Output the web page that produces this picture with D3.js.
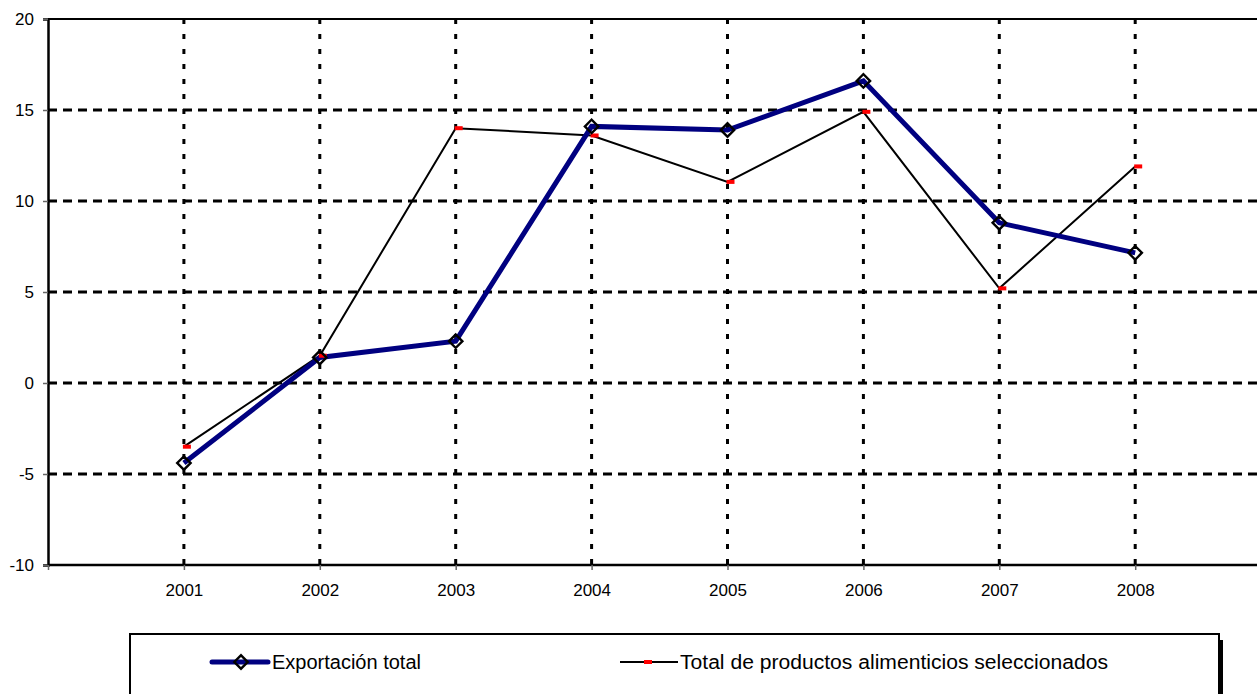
<!DOCTYPE html>
<html>
<head>
<meta charset="utf-8">
<script src="https://d3js.org/d3.v7.min.js"></script>
<style>
  html, body { margin: 0; padding: 0; background: #fff; overflow: hidden; }
  svg { display: block; font-family: "Liberation Sans", Arial, sans-serif; }
</style>
</head>
<body>
<svg id="chart" width="1257" height="694"></svg>
<script>
// ---- data ----
const years = ["2001", "2002", "2003", "2004", "2005", "2006", "2007", "2008"];
const exportacionTotal = [-4.4, 1.4, 2.3, 14.1, 13.9, 16.6, 8.8, 7.15];
const productosAlimenticios = [-3.5, 1.5, 14.0, 13.6, 11.05, 14.9, 5.2, 11.9];
const yTicks = [-10, -5, 0, 5, 10, 15, 20];
const seriesNames = ["Exportación total", "Total de productos alimenticios seleccionados"];

// ---- layout ----
const svg = d3.select("#chart");
const plotLeft = 48, plotTop = 19, plotBottom = 565, plotRight = 1257;

// point scale with an empty slot on each side (Excel-like category placement)
const slots = ["_start", ...years, "_end"];
const x = d3.scalePoint().domain(slots).range([plotLeft, plotLeft + 9 * 135.9]);
const y = d3.scaleLinear().domain([-10, 20]).range([plotBottom, plotTop]);

// horizontal grid
svg.append("g").selectAll("line").data(yTicks.filter(d => d > -10 && d < 20)).join("line")
  .attr("x1", plotLeft).attr("x2", plotRight)
  .attr("y1", d => y(d)).attr("y2", d => y(d))
  .attr("stroke", "#000").attr("stroke-width", 3).attr("stroke-dasharray", "9,6");

// vertical grid
svg.append("g").selectAll("line").data(years).join("line")
  .attr("x1", d => x(d)).attr("x2", d => x(d))
  .attr("y1", plotTop).attr("y2", plotBottom)
  .attr("stroke", "#000").attr("stroke-width", 3).attr("stroke-dasharray", "5,10");

// top border
svg.append("line").attr("x1", plotLeft).attr("x2", plotRight).attr("y1", plotTop).attr("y2", plotTop)
  .attr("stroke", "#000").attr("stroke-width", 2);

// y axis
const yAxis = d3.axisLeft(y).tickValues(yTicks).tickSize(5).tickPadding(9).tickFormat(d => String(d));
const gy = svg.append("g").attr("transform", `translate(${plotLeft},0)`).call(yAxis);
gy.select(".domain").attr("stroke-width", 2.5);
gy.selectAll(".tick line").attr("stroke", "#666").attr("stroke-width", 1.5);
gy.selectAll("text").attr("font-size", 17).attr("fill", "#000")
  .attr("font-family", "'Liberation Sans', Arial, sans-serif");

// x axis
const xAxis = d3.axisBottom(x).tickValues(["_start", ...years]).tickSize(5).tickPadding(14)
  .tickFormat(d => d.startsWith("_") ? "" : d);
const gx = svg.append("g").attr("transform", `translate(0,${plotBottom})`).call(xAxis);
gx.select(".domain").attr("stroke-width", 2.5).attr("d", `M${plotLeft},0H${plotRight}`);
gx.selectAll(".tick line").attr("stroke", "#666").attr("stroke-width", 1.5);
gx.selectAll("text").attr("font-size", 17).attr("fill", "#000")
  .attr("font-family", "'Liberation Sans', Arial, sans-serif");

// series lines
const line = d3.line().x((d, i) => x(years[i])).y(d => y(d));
svg.append("path").datum(productosAlimenticios).attr("d", line)
  .attr("fill", "none").attr("stroke", "#000").attr("stroke-width", 2);
svg.append("path").datum(exportacionTotal).attr("d", line)
  .attr("fill", "none").attr("stroke", "#000080").attr("stroke-width", 5);

// red dash markers
svg.append("g").selectAll("rect").data(productosAlimenticios).join("rect")
  .attr("x", (d, i) => x(years[i]) - 1).attr("y", d => y(d) - 2)
  .attr("width", 8).attr("height", 4).attr("fill", "#ff0000");

// diamond markers
const diamond = d3.symbol().type(d3.symbolSquare).size(90);
svg.append("g").selectAll("path").data(exportacionTotal).join("path")
  .attr("d", diamond)
  .attr("transform", (d, i) => `translate(${x(years[i])},${y(d)}) rotate(45)`)
  .attr("fill", "none").attr("stroke", "#000").attr("stroke-width", 2.4);

// ---- legend ----
const lg = svg.append("g");
lg.append("rect").attr("x", 1219).attr("y", 640).attr("width", 4).attr("height", 60).attr("fill", "#000");
lg.append("rect").attr("x", 130).attr("y", 634).attr("width", 1089).attr("height", 80)
  .attr("fill", "#fff").attr("stroke", "#000").attr("stroke-width", 2);

const ly = 662;
// entry 1
lg.append("line").attr("x1", 212).attr("x2", 268).attr("y1", ly).attr("y2", ly)
  .attr("stroke", "#000080").attr("stroke-width", 5).attr("stroke-linecap", "round");
lg.append("path").attr("d", diamond).attr("transform", `translate(241,${ly}) rotate(45)`)
  .attr("fill", "none").attr("stroke", "#000").attr("stroke-width", 2.4);
lg.append("text").attr("x", 272).attr("y", ly + 7).attr("font-size", 20).attr("fill", "#000")
  .text(seriesNames[0]);
// entry 2
lg.append("line").attr("x1", 620).attr("x2", 678).attr("y1", ly).attr("y2", ly)
  .attr("stroke", "#000").attr("stroke-width", 2);
lg.append("rect").attr("x", 644).attr("y", ly - 2).attr("width", 8).attr("height", 4).attr("fill", "#ff0000");
lg.append("text").attr("x", 680).attr("y", ly + 7).attr("font-size", 20).attr("fill", "#000")
  .attr("textLength", 428).attr("lengthAdjust", "spacingAndGlyphs")
  .text(seriesNames[1]);
</script>
</body>
</html>
